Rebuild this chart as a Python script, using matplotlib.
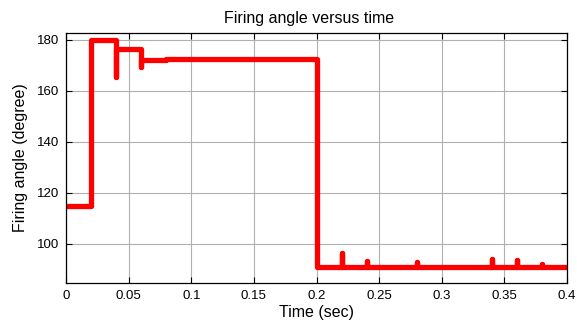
import numpy as np
import matplotlib.pyplot as plt

plt.rcParams['font.family'] = ['Liberation Sans', 'DejaVu Sans']

# step-shaped firing angle trace (time in sec, angle in degree)
time = [0.0, 0.02, 0.02, 0.04, 0.04, 0.04, 0.06, 0.06, 0.06, 0.08, 0.08,
        0.2, 0.2, 0.22, 0.22, 0.22, 0.24, 0.24, 0.24, 0.28, 0.28, 0.28,
        0.34, 0.34, 0.34, 0.36, 0.36, 0.36, 0.38, 0.38, 0.38, 0.4]
angle = [115, 115, 180, 180, 165.5, 176.3, 176.3, 169.5, 172.2, 172.2, 172.6,
         172.6, 91, 91, 96.3, 91, 91, 93.4, 91, 91, 93.1, 91,
         91, 94.2, 91, 91, 93.7, 91, 91, 92, 91, 91]

xticks = [0, 0.05, 0.1, 0.15, 0.2, 0.25, 0.3, 0.35, 0.4]
xlabels = ['0', '0.05', '0.1', '0.15', '0.2', '0.25', '0.3', '0.35', '0.4']
yticks = [100, 120, 140, 160, 180]

fig = plt.figure(figsize=(5.77, 3.28), dpi=100)
ax = fig.add_axes([0.1144, 0.1372, 0.8683, 0.7622])

ax.plot(time, angle, color='#ff0000', linewidth=3.8,
        solid_capstyle='round', solid_joinstyle='round')

ax.set_xlim(0, 0.4)
ax.set_ylim(84.7, 182.7)
ax.set_xticks(xticks)
ax.set_xticklabels(xlabels)
ax.set_yticks(yticks)
ax.grid(True, color='#b0b0b0', linewidth=0.8)
ax.set_axisbelow(True)
ax.tick_params(direction='in', top=True, right=True, labelsize=9.5, length=4,
               pad=5)
for s in ax.spines.values():
    s.set_linewidth(0.9)

ax.set_title('Firing angle versus time', fontsize=11.5, pad=7, x=0.485)
ax.set_xlabel('Time (sec)', fontsize=11.5, labelpad=2)
ax.set_ylabel('Firing angle (degree)', fontsize=11.5, labelpad=6)

fig.savefig('out.png', dpi=100)
